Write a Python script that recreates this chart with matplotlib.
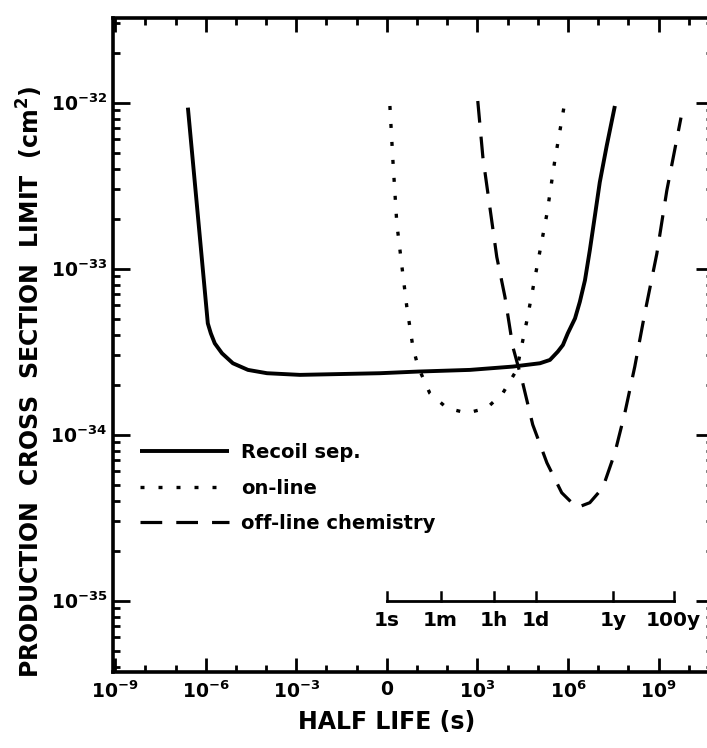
import numpy as np
import matplotlib
matplotlib.use("Agg")
import matplotlib.pyplot as plt
from matplotlib.ticker import FixedLocator, LogLocator, NullFormatter

plt.rcParams['font.family'] = ['DejaVu Sans']
plt.rcParams['font.weight'] = 'bold'
plt.rcParams['mathtext.fontset'] = 'custom'
plt.rcParams['mathtext.rm'] = 'DejaVu Sans:bold'
plt.rcParams['mathtext.it'] = 'DejaVu Sans:bold'
plt.rcParams['mathtext.bf'] = 'DejaVu Sans:bold'
plt.rcParams['mathtext.default'] = 'rm'

# ---- data (log10 of half life [s], log10 of cross section limit [cm^2]) ----
recoil_logt = [-6.59, -6.29, -5.93, -5.83, -5.70, -5.46, -5.10, -4.60, -3.97, -2.88,
               -0.23, 1.03, 2.75, 4.17, 5.07, 5.40, 5.66, 5.83, 5.99, 6.23, 6.39,
               6.56, 6.72, 6.89, 7.05, 7.28, 7.55]
recoil_logs = [-32.03, -32.62, -33.33, -33.39, -33.45, -33.51, -33.57, -33.61, -33.63,
               -33.64, -33.63, -33.62, -33.61, -33.59, -33.57, -33.55, -33.50, -33.46,
               -33.39, -33.30, -33.20, -33.07, -32.89, -32.68, -32.48, -32.26, -32.02]

online_logt = [0.10, 0.20, 0.33, 0.50, 0.66, 0.86, 1.03, 1.42, 1.99, 2.65, 3.31, 3.84,
               4.30, 4.64, 4.97, 5.30, 5.56, 5.89]
online_logs = [-32.02, -32.35, -32.73, -32.99, -33.23, -33.47, -33.59, -33.75, -33.84,
               -33.87, -33.84, -33.75, -33.61, -33.31, -32.99, -32.67, -32.35, -32.00]

offline_logt = [3.01, 3.18, 3.41, 3.64, 3.91, 4.17, 4.50, 4.83, 5.30, 5.79, 6.29, 6.72,
                7.15, 7.55, 7.88, 8.21, 8.54, 8.94, 9.27, 9.74]
offline_logs = [-31.99, -32.33, -32.63, -32.93, -33.17, -33.47, -33.69, -33.94, -34.17,
                -34.35, -34.44, -34.41, -34.32, -34.11, -33.87, -33.59, -33.27, -32.91,
                -32.53, -32.09]

series_labels = ["Recoil sep.", "on-line", "off-line chemistry"]

xtick_exps = [-9, -6, -3, 0, 3, 6, 9]
xtick_labels = [r"$10^{-9}$", r"$10^{-6}$", r"$10^{-3}$", "0", r"$10^{3}$", r"$10^{6}$", r"$10^{9}$"]
ytick_exps = [-35, -34, -33, -32]
ytick_labels = [r"$10^{-35}$", r"$10^{-34}$", r"$10^{-33}$", r"$10^{-32}$"]

# secondary time scale (seconds)
time_labels = ["1s", "1m", "1h", "1d", "1y", "100y"]
time_values = [1.0, 60.0, 3600.0, 86400.0, 3.156e7, 3.156e9]

# ---- figure ----
fig = plt.figure(figsize=(7.07, 7.48), dpi=100)
ax = fig.add_axes([113/707, 1-672/748, 600/707, 654/748])

ax.plot(np.power(10.0, recoil_logt), np.power(10.0, recoil_logs), color='black',
        lw=2.8, solid_capstyle='butt', solid_joinstyle='round', label=series_labels[0])
ax.plot(np.power(10.0, online_logt), np.power(10.0, online_logs), color='black',
        lw=2.4, linestyle=(0, (1.2, 4.2)), label=series_labels[1])
ax.plot(np.power(10.0, offline_logt), np.power(10.0, offline_logs), color='black',
        lw=2.3, linestyle=(0, (6.8, 4.4)), label=series_labels[2])

ax.set_xscale('log')
ax.set_yscale('log')
ax.set_xlim(10**-9.07, 10**10.8)
ax.set_ylim(10**-35.43, 10**-31.49)

ax.xaxis.set_major_locator(FixedLocator([10.0**e for e in xtick_exps]))
ax.set_xticklabels(xtick_labels)
ax.xaxis.set_minor_locator(FixedLocator([10.0**e for e in range(-9, 11)]))
ax.xaxis.set_minor_formatter(NullFormatter())
ax.yaxis.set_major_locator(FixedLocator([10.0**e for e in ytick_exps]))
ax.set_yticklabels(ytick_labels)
ax.yaxis.set_minor_locator(LogLocator(base=10, subs=np.arange(2, 10)))
ax.yaxis.set_minor_formatter(NullFormatter())

ax.tick_params(which='both', direction='in', top=True, right=True, width=2.0,
               labelsize=13.5, color='black')
ax.tick_params(axis='x', which='major', length=10, pad=6)
ax.tick_params(axis='x', which='minor', length=5)
ax.tick_params(axis='y', which='major', length=12, pad=4)
ax.tick_params(axis='y', which='minor', length=5)
for s in ax.spines.values():
    s.set_linewidth(2.6)

# secondary time scale drawn inside the axes at 1e-35
y_scale = 10**-35
y_tick_top = 10**-34.95
ax.plot([time_values[0], time_values[-1]], [y_scale, y_scale], color='black', lw=2.0)
for tv, tl in zip(time_values, time_labels):
    ax.plot([tv, tv], [y_scale, y_tick_top], color='black', lw=1.8)
    ax.text(tv, 10**-35.06, tl, ha='center', va='top', fontsize=14.5)

leg = ax.legend(loc='upper left', bbox_to_anchor=(140/707, 1-443/748),
                bbox_transform=fig.transFigure, frameon=False, fontsize=14,
                handlelength=4.6, handletextpad=0.6, labelspacing=0.85,
                borderpad=0, borderaxespad=0)

fig.text(387/707, 1-722/748, "HALF LIFE (s)", ha='center', va='center', fontsize=17)
fig.text(30/707, 1-382/748, r"PRODUCTION  CROSS  SECTION  LIMIT  (cm$^{2}$)",
         ha='center', va='center', rotation=90, fontsize=17)

fig.savefig("out.png", dpi=100)
